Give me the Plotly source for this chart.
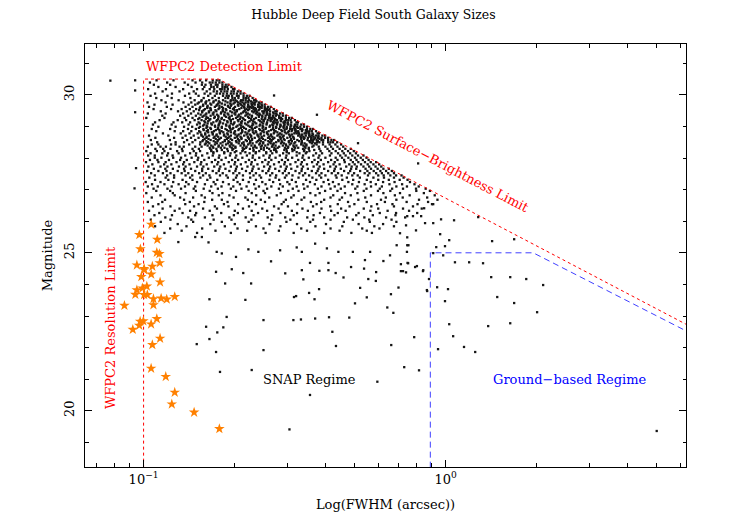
import plotly.graph_objects as go

# Galaxy cloud in thin magnitude rows:
# (magnitude, [log10 FWHM of each galaxy in that row])
ridge_rows = [
    (30.46, [-.957, -.901, -.838, -.813, -.793, -.771, -.758, -.749]),
    (30.39, [-.979, -.922, -.864, -.828, -.806, -.781, -.772, -.761, -.749, -.739]),
    (30.32, [-.966, -.912, -.853, -.807, -.795, -.777, -.761, -.755, -.739, -.728, -.719]),
    (30.25, [-.951, -.894, -.841, -.799, -.776, -.768, -.756, -.739, -.731, -.723, -.709]),
    (30.18, [-.985, -.926, -.869, -.823, -.804, -.781, -.766, -.747, -.741, -.732, -.721, -.704, -.699]),
    (30.11, [-.937, -.881, -.834, -.791, -.768, -.757, -.743, -.732, -.723, -.709, -.701, -.688, -.679]),
    (30.04, [-.962, -.906, -.849, -.827, -.798, -.779, -.758, -.747, -.736, -.724, -.711, -.702, -.691, -.679, -.669]),
    (29.97, [-.977, -.921, -.863, -.818, -.786, -.764, -.737, -.725, -.718, -.707, -.691, -.685, -.669, -.658, -.649]),
    (29.90, [-.958, -.907, -.845, -.801, -.772, -.751, -.729, -.720, -.706, -.698, -.686, -.669, -.661, -.653, -.639]),
    (29.83, [-.941, -.884, -.831, -.808, -.783, -.761, -.737, -.711, -.703, -.696, -.677, -.671, -.662, -.651, -.634, -.629]),
    (29.76, [-.987, -.927, -.868, -.842, -.817, -.795, -.769, -.748, -.722, -.698, -.687, -.673, -.662, -.653, -.639, -.631, -.618, -.609]),
    (29.69, [-.964, -.904, -.851, -.829, -.803, -.776, -.757, -.731, -.709, -.688, -.677, -.666, -.654, -.641, -.632, -.621, -.609, -.599]),
    (29.62, [-.982, -.923, -.861, -.838, -.812, -.789, -.764, -.741, -.719, -.697, -.667, -.655, -.648, -.637, -.621, -.615, -.599, -.588, -.579]),
    (29.55, [-.967, -.909, -.874, -.847, -.826, -.797, -.778, -.752, -.728, -.704, -.683, -.659, -.650, -.636, -.628, -.616, -.599, -.591, -.583, -.569]),
    (29.48, [-.943, -.886, -.857, -.834, -.806, -.784, -.759, -.737, -.713, -.691, -.668, -.641, -.633, -.626, -.607, -.601, -.592, -.581, -.564, -.559]),
    (29.41, [-.986, -.927, -.869, -.843, -.819, -.792, -.771, -.744, -.722, -.699, -.677, -.655, -.628, -.617, -.603, -.592, -.583, -.569, -.561, -.548, -.539]),
    (29.34, [-.938, -.879, -.852, -.827, -.801, -.778, -.753, -.732, -.708, -.686, -.663, -.641, -.618, -.607, -.596, -.584, -.571, -.562, -.551, -.539, -.529]),
    (29.27, [-.991, -.931, -.864, -.838, -.815, -.787, -.766, -.741, -.718, -.694, -.672, -.651, -.628, -.597, -.585, -.578, -.567, -.551, -.545, -.529, -.518, -.509]),
    (29.20, [-.947, -.887, -.859, -.831, -.808, -.782, -.757, -.733, -.711, -.688, -.664, -.643, -.619, -.603, -.589, -.580, -.566, -.558, -.546, -.529, -.521, -.513, -.499]),
    (29.13, [-.962, -.901, -.872, -.846, -.818, -.796, -.769, -.746, -.722, -.699, -.677, -.654, -.632, -.609, -.591, -.571, -.563, -.556, -.537, -.531, -.522, -.511, -.494, -.489]),
    (29.06, [-.969, -.907, -.851, -.823, -.799, -.774, -.751, -.727, -.704, -.682, -.659, -.637, -.614, -.593, -.574, -.558, -.547, -.533, -.522, -.513, -.499, -.491, -.478, -.469]),
    (28.99, [-.951, -.894, -.866, -.839, -.813, -.789, -.763, -.741, -.716, -.693, -.671, -.648, -.626, -.604, -.583, -.561, -.548, -.537, -.526, -.514, -.501, -.492, -.481, -.469, -.459]),
    (28.92, [-.973, -.912, -.853, -.827, -.802, -.777, -.754, -.729, -.706, -.684, -.661, -.639, -.617, -.596, -.572, -.551, -.527, -.515, -.508, -.497, -.481, -.475, -.459, -.448, -.439]),
    (28.85, [-.958, -.897, -.869, -.842, -.816, -.791, -.767, -.742, -.719, -.697, -.673, -.652, -.629, -.607, -.586, -.563, -.541, -.519, -.510, -.496, -.488, -.476, -.459, -.451, -.443, -.429]),
    (28.78, [-.936, -.877, -.848, -.821, -.796, -.771, -.747, -.723, -.701, -.678, -.656, -.634, -.612, -.591, -.569, -.548, -.527, -.501, -.493, -.486, -.467, -.461, -.452, -.441, -.424, -.419]),
    (28.71, [-.982, -.918, -.861, -.834, -.808, -.783, -.759, -.734, -.711, -.689, -.667, -.644, -.622, -.601, -.579, -.557, -.536, -.514, -.488, -.477, -.463, -.452, -.443, -.429, -.421, -.408, -.399]),
    (28.64, [-.961, -.899, -.871, -.843, -.818, -.792, -.768, -.744, -.721, -.698, -.676, -.653, -.632, -.609, -.588, -.567, -.546, -.524, -.503, -.478, -.467, -.456, -.444, -.431, -.422, -.411, -.399, -.389]),
    (28.57, [-.976, -.913, -.856, -.829, -.803, -.778, -.753, -.731, -.707, -.685, -.662, -.641, -.618, -.597, -.576, -.554, -.533, -.512, -.491, -.457, -.445, -.438, -.427, -.411, -.405, -.389, -.378, -.369]),
    (28.50, [-.955, -.894, -.866, -.838, -.812, -.787, -.762, -.738, -.715, -.692, -.669, -.647, -.626, -.604, -.583, -.561, -.541, -.519, -.498, -.476, -.449, -.440, -.426, -.418, -.406, -.389, -.381, -.373, -.359]),
]

# the darkest part of the cloud, between the rows above
core_rows = [
    (29.795, [-.809, -.792, -.768, -.751, -.729, -.712, -.691, -.679, -.655, -.644, -.626]),
    (29.725, [-.821, -.794, -.779, -.753, -.741, -.713, -.702, -.681, -.667, -.643, -.634, -.616]),
    (29.655, [-.803, -.788, -.759, -.749, -.721, -.711, -.686, -.673, -.653, -.641, -.619, -.608]),
    (29.585, [-.814, -.789, -.779, -.749, -.737, -.714, -.701, -.676, -.666, -.642, -.631, -.609, -.597]),
    (29.515, [-.816, -.801, -.777, -.762, -.738, -.726, -.699, -.691, -.664, -.654, -.631, -.619, -.597, -.588]),
    (29.445, [-.806, -.783, -.768, -.743, -.731, -.707, -.696, -.671, -.661, -.636, -.624, -.603, -.592, -.571]),
    (29.375, [-.811, -.795, -.769, -.757, -.733, -.719, -.696, -.684, -.659, -.649, -.623, -.614, -.591, -.581, -.559]),
    (29.305, [-.805, -.792, -.764, -.752, -.727, -.715, -.689, -.679, -.654, -.642, -.618, -.607, -.583, -.572, -.551]),
    (29.235, [-.819, -.794, -.779, -.753, -.742, -.715, -.704, -.681, -.669, -.644, -.634, -.609, -.599, -.575, -.564, -.541]),
    (29.165, [-.799, -.786, -.759, -.748, -.723, -.711, -.686, -.674, -.649, -.637, -.614, -.602, -.579, -.569, -.545, -.533]),
    (29.095, [-.814, -.788, -.776, -.749, -.737, -.711, -.701, -.676, -.664, -.639, -.627, -.604, -.592, -.569, -.559, -.535, -.523]),
    (29.025, [-.803, -.791, -.764, -.752, -.726, -.715, -.689, -.677, -.653, -.641, -.616, -.606, -.581, -.571, -.546, -.535, -.511, -.499]),
    (28.955, [-.817, -.792, -.779, -.753, -.741, -.714, -.703, -.678, -.667, -.642, -.631, -.606, -.595, -.571, -.561, -.536, -.526, -.501, -.489]),
    (28.885, [-.801, -.787, -.761, -.749, -.724, -.712, -.686, -.674, -.649, -.639, -.614, -.603, -.578, -.568, -.544, -.533, -.508, -.498, -.474, -.463]),
    (28.815, [-.812, -.786, -.774, -.748, -.736, -.711, -.699, -.674, -.663, -.638, -.627, -.602, -.592, -.567, -.557, -.532, -.522, -.497, -.488, -.463, -.454]),
    (28.745, [-.809, -.796, -.771, -.758, -.733, -.721, -.696, -.685, -.659, -.648, -.623, -.613, -.588, -.578, -.553, -.543, -.518, -.509, -.484, -.475, -.451, -.439]),
    (28.675, [-.803, -.791, -.765, -.753, -.728, -.716, -.691, -.679, -.655, -.644, -.619, -.609, -.584, -.574, -.549, -.539, -.515, -.505, -.481, -.471, -.448, -.437, -.421]),
    (28.605, [-.798, -.785, -.761, -.749, -.724, -.712, -.688, -.676, -.651, -.641, -.616, -.605, -.581, -.571, -.546, -.536, -.512, -.502, -.478, -.469, -.445, -.435, -.418]),
    (28.535, [-.805, -.792, -.768, -.755, -.731, -.719, -.694, -.683, -.658, -.647, -.622, -.612, -.587, -.577, -.553, -.543, -.519, -.509, -.485, -.476, -.451, -.441, -.423]),
    (28.465, [-.794, -.782, -.757, -.745, -.721, -.709, -.685, -.674, -.649, -.639, -.614, -.604, -.579, -.569, -.545, -.535, -.511, -.501, -.477, -.467, -.443, -.432]),
    (28.395, [-.788, -.776, -.751, -.739, -.715, -.703, -.679, -.667, -.643, -.632, -.608, -.597, -.573, -.563, -.539, -.528, -.504, -.494, -.471, -.461, -.437]),
    (28.325, [-.781, -.769, -.744, -.732, -.708, -.696, -.672, -.661, -.637, -.626, -.602, -.591, -.567, -.556, -.532, -.522, -.498, -.488, -.464, -.453]),
    (28.255, [-.776, -.741, -.706, -.671, -.636, -.602, -.568, -.534, -.501, -.468, -.435]),
    (28.185, [-.769, -.733, -.698, -.663, -.628, -.594, -.560, -.526, -.493, -.460]),
]

mid_rows = [
    (28.43, [-.973, -.951, -.909, -.894, -.849, -.813, -.797, -.764, -.727, -.709, -.668, -.654, -.617, -.588, -.571, -.529, -.516, -.478, -.461, -.427, -.406, -.384, -.365, -.346]),
    (28.36, [-.986, -.944, -.926, -.881, -.867, -.829, -.808, -.771, -.752, -.713, -.696, -.659, -.631, -.612, -.575, -.551, -.521, -.502, -.467, -.441, -.420, -.398, -.379, -.358, -.339]),
    (28.29, [-.961, -.935, -.911, -.873, -.838, -.817, -.779, -.759, -.723, -.703, -.667, -.648, -.611, -.584, -.563, -.527, -.508, -.472, -.453, -.418, -.391, -.373, -.351, -.332, -.314]),
    (28.22, [-.991, -.956, -.931, -.889, -.871, -.834, -.813, -.776, -.757, -.721, -.693, -.673, -.636, -.617, -.579, -.561, -.526, -.507, -.469, -.451, -.414, -.385, -.364, -.342, -.323, -.304]),
    (28.15, [-.977, -.938, -.919, -.884, -.846, -.826, -.789, -.769, -.733, -.712, -.679, -.649, -.629, -.594, -.574, -.538, -.519, -.484, -.463, -.429, -.409, -.378, -.356, -.337, -.316, -.297]),
    (28.08, [-.985, -.963, -.922, -.904, -.862, -.827, -.806, -.771, -.749, -.714, -.693, -.658, -.638, -.603, -.582, -.549, -.527, -.493, -.472, -.438, -.418, -.383, -.349, -.331, -.309, -.290, -.272]),
    (28.01, [-.963, -.941, -.902, -.876, -.841, -.819, -.784, -.751, -.728, -.696, -.673, -.639, -.617, -.584, -.563, -.529, -.508, -.474, -.453, -.421, -.398, -.364, -.343, -.322, -.300, -.281, -.262]),
    (27.94, [-.979, -.954, -.916, -.879, -.857, -.821, -.799, -.763, -.742, -.707, -.687, -.651, -.631, -.597, -.577, -.542, -.522, -.488, -.468, -.434, -.413, -.379, -.358, -.336, -.314, -.295, -.274, -.255]),
    (27.87, [-.992, -.951, -.927, -.891, -.866, -.832, -.809, -.774, -.753, -.718, -.697, -.662, -.642, -.607, -.586, -.552, -.532, -.497, -.476, -.442, -.422, -.389, -.367, -.334, -.307, -.289, -.267, -.248, -.230]),
    (27.80, [-.971, -.932, -.908, -.869, -.848, -.811, -.791, -.756, -.734, -.699, -.678, -.644, -.623, -.589, -.568, -.534, -.514, -.479, -.459, -.426, -.404, -.371, -.351, -.319, -.301, -.280, -.258, -.239, -.220]),
    (27.73, [-.984, -.944, -.921, -.883, -.861, -.823, -.802, -.766, -.746, -.711, -.691, -.656, -.636, -.601, -.581, -.546, -.526, -.491, -.472, -.437, -.417, -.382, -.363, -.329, -.311, -.294, -.272, -.253, -.232, -.213]),
    (27.66, [-.966, -.928, -.903, -.866, -.843, -.806, -.786, -.749, -.729, -.694, -.674, -.639, -.619, -.584, -.564, -.529, -.511, -.476, -.456, -.421, -.402, -.367, -.347, -.313, -.296, -.265, -.247, -.225, -.206, -.188]),
    (27.59, [-.988, -.951, -.924, -.887, -.864, -.829, -.806, -.771, -.751, -.716, -.696, -.661, -.641, -.606, -.587, -.551, -.532, -.497, -.477, -.443, -.424, -.389, -.369, -.336, -.316, -.283, -.259, -.238, -.216, -.197, -.178]),
    (27.52, [-.975, -.936, -.911, -.874, -.852, -.816, -.794, -.759, -.738, -.703, -.683, -.648, -.628, -.594, -.574, -.539, -.519, -.484, -.465, -.429, -.411, -.377, -.356, -.322, -.303, -.268, -.252, -.230, -.211, -.190, -.171]),
    (27.45, [-.963, -.922, -.899, -.861, -.839, -.803, -.782, -.747, -.726, -.691, -.671, -.636, -.616, -.581, -.561, -.527, -.507, -.472, -.452, -.418, -.398, -.364, -.344, -.309, -.291, -.257, -.223, -.205, -.183, -.164, -.146]),
]

lower_rows = [
    (27.38, [-.981, -.927, -.899, -.846, -.812, -.779, -.721, -.694, -.647, -.611, -.563, -.532, -.487, -.441, -.412, -.361, -.327, -.284, -.239, -.204, -.171, -.139]),
    (27.31, [-.962, -.918, -.871, -.838, -.789, -.756, -.702, -.671, -.628, -.583, -.551, -.509, -.462, -.428, -.389, -.342, -.306, -.261, -.223, -.188, -.152, -.126]),
    (27.24, [-.993, -.944, -.902, -.859, -.823, -.768, -.737, -.689, -.652, -.607, -.571, -.524, -.496, -.449, -.404, -.373, -.322, -.287, -.248, -.207, -.169, -.118]),
    (27.17, [-.972, -.931, -.884, -.851, -.797, -.762, -.718, -.681, -.634, -.596, -.548, -.517, -.471, -.433, -.386, -.354, -.309, -.268, -.231, -.186, -.144, -.103]),
    (27.10, [-.986, -.953, -.907, -.863, -.829, -.776, -.742, -.703, -.659, -.618, -.577, -.539, -.493, -.457, -.411, -.367, -.334, -.292, -.247, -.211, -.163, -.128, -.089]),
    (27.03, [-.967, -.921, -.876, -.834, -.801, -.754, -.711, -.676, -.629, -.591, -.552, -.506, -.468, -.423, -.381, -.347, -.299, -.262, -.218, -.177, -.141, -.098, -.066]),
    (26.96, [-.958, -.912, -.827, -.781, -.694, -.652, -.603, -.521, -.487, -.399, -.358, -.271, -.224, -.183, -.097, -.052]),
    (26.89, [-.991, -.903, -.861, -.772, -.739, -.642, -.598, -.546, -.448, -.417, -.333, -.292, -.206, -.151, -.072]),
    (26.82, [-.944, -.897, -.808, -.751, -.716, -.627, -.559, -.503, -.431, -.372, -.314, -.247, -.168, -.119, -.036]),
    (26.75, [-.973, -.879, -.836, -.797, -.702, -.663, -.584, -.511, -.468, -.381, -.343, -.266, -.198, -.142, -.061]),
    (26.68, [-.929, -.866, -.773, -.741, -.655, -.612, -.529, -.477, -.402, -.351, -.289, -.214, -.163, -.088, -.027]),
    (26.61, [-.986, -.938, -.847, -.799, -.722, -.641, -.598, -.536, -.446, -.412, -.323, -.261, -.201, -.129, -.058]),
    (26.54, [-.951, -.862, -.818, -.734, -.687, -.628, -.543, -.491, -.427, -.357, -.302, -.227, -.176, -.093, -.041]),
    (26.47, [-.969, -.911, -.833, -.764, -.719, -.651, -.568, -.522, -.439, -.382, -.318, -.246, -.171, -.108]),
    (26.40, [-.937, -.881, -.803, -.757, -.671, -.607, -.553, -.474, -.411, -.346, -.271, -.223, -.141, -.079]),
    (26.33, [-.982, -.897, -.846, -.781, -.698, -.642, -.591, -.509, -.456, -.379, -.331, -.249, -.192, -.121]),
    (26.26, [-.948, -.871, -.826, -.743, -.688, -.621, -.547, -.492, -.416, -.357, -.288, -.218, -.164, -.094]),
    (26.19, [-.964, -.906, -.829, -.772, -.701, -.636, -.574, -.503, -.437, -.368, -.296, -.241, -.166]),
    (26.12, [-.928, -.852, -.797, -.716, -.662, -.589, -.531, -.458, -.402, -.326, -.269, -.197, -.134]),
    (26.05, [-.976, -.911, -.842, -.768, -.709, -.643, -.577, -.514, -.439, -.381, -.307, -.253, -.179]),
    (25.98, [-.943, -.836, -.741, -.652, -.527, -.448, -.337, -.251, -.163]),
    (25.91, [-.887, -.779, -.698, -.583, -.492, -.396, -.288, -.207]),
    (25.84, [-.962, -.858, -.731, -.628, -.547, -.431, -.342, -.236, -.171]),
    (25.77, [-.912, -.806, -.689, -.603, -.478, -.381, -.276, -.219]),
    (25.70, [-.874, -.762, -.657, -.552, -.459, -.351, -.261]),
    (25.63, [-.931, -.823, -.711, -.596, -.503, -.402, -.312, -.244]),
]

# scattered galaxies: (log10 FWHM, magnitude)
sparse_dots = [
    (-0.041, 24.99), (-0.008, 24.92), (0.031, 24.70), (0.078, 24.70), (0.124, 24.67), (0.151, 24.23),
    (0.214, 24.23), (0.267, 24.17), (0.323, 23.98), (0.154, 25.37), (0.227, 25.43), (0.028, 26.03),
    (0.171, 23.60), (0.227, 23.41), (0.303, 23.12), (0.141, 22.68), (0.214, 22.77), (0.012, 22.74),
    (0.025, 22.36), (0.061, 22.02), (0.098, 21.86), (-0.025, 21.95), (-0.104, 22.33), (-0.137, 21.38),
    (-0.088, 21.28), (-0.002, 23.47), (0.008, 23.85), (-0.028, 23.91), (-0.061, 23.79), (-0.055, 24.17),
    (-0.018, 25.59), (0.012, 25.40), (-0.002, 25.21), (-0.031, 25.18), (-0.127, 25.24), (-0.127, 25.49),
    (-0.151, 25.62), (-0.098, 25.71), (-0.131, 25.87), (-0.041, 25.94), (-0.068, 25.94), (-0.081, 26.16),
    (-0.108, 26.16), (-0.127, 26.16), (-0.071, 26.41), (-0.045, 26.54), (0.108, 26.13), (-0.124, 24.67),
    (-0.101, 24.55), (-0.075, 24.42), (-0.141, 24.42), (-0.015, 26.06),
    (-0.885, 25.34), (-0.829, 25.50), (-0.807, 25.50), (-0.785, 25.33), (-0.758, 25.03), (-0.741, 24.98),
    (-0.694, 24.87), (-0.760, 24.40), (-0.708, 24.48), (-0.670, 24.36), (-0.730, 24.03), (-0.644, 24.03),
    (-0.782, 23.53), (-0.663, 23.51), (-0.725, 22.97), (-0.793, 22.66), (-0.756, 22.48), (-0.736, 22.64),
    (-0.782, 22.27), (-0.824, 22.11), (-0.760, 21.86), (-0.747, 21.23), (-0.642, 21.29), (-0.603, 21.92),
    (-0.603, 22.87), (-0.578, 24.73), (-0.531, 24.35), (-0.471, 24.16), (-0.452, 23.73), (-0.419, 23.85),
    (-0.434, 23.53), (-0.502, 23.60), (-0.495, 23.63), (-0.504, 22.87), (-0.479, 22.89), (-0.432, 22.92),
    (-0.386, 22.96), (-0.319, 22.95), (-0.375, 22.50), (-0.363, 22.05), (-0.449, 20.50), (-0.517, 19.41),
    (-0.300, 23.40), (-0.283, 23.89), (-0.261, 23.59), (-0.193, 23.27), (-0.173, 23.10), (-0.181, 23.69),
    (-0.156, 23.90), (-0.180, 22.08), (-0.226, 20.92), (-0.231, 24.11), (-0.256, 24.17), (-0.338, 24.22),
    (-0.388, 24.45), (-0.418, 24.43), (-0.476, 24.45), (-0.364, 24.36), (-0.313, 24.55), (-0.270, 24.50),
    (-0.230, 24.39), (-0.148, 24.42), (-0.131, 24.38), (-0.062, 23.82), (-0.095, 24.58), (-0.074, 24.45),
    (-0.126, 24.68), (-0.148, 24.64), (-0.267, 24.77), (-0.206, 24.74), (-0.388, 24.68), (-0.449, 24.68),
    (-0.653, 25.11), (-0.620, 25.03), (-0.548, 25.08), (-0.493, 25.17), (-0.476, 25.03), (-0.432, 25.29),
    (-0.393, 25.14), (-0.355, 25.03), (-0.307, 25.03), (-0.250, 25.03), (-0.162, 25.24), (-0.123, 25.24),
    (-0.128, 25.03), (-0.184, 24.92), (0.699, 19.36),
    # stray points above the limits or left of the resolution limit
    (-0.568, 29.98), (-0.426, 29.37), (-0.290, 28.47), (-0.091, 27.83),
    (-1.028, 30.46), (-1.028, 30.14), (-1.028, 29.45), (-1.025, 27.68), (-1.030, 27.04), (-1.110, 30.45),
]

# bright compact objects (orange stars)
star_fwhm = [0.106, 0.0968, 0.111, 0.0976, 0.1106, 0.1128, 0.1131, 0.0950, 0.1069, 0.1004,
             0.1004, 0.106, 0.0983, 0.1134, 0.1025, 0.0991, 0.0950, 0.0939, 0.1004, 0.1029,
             0.1078, 0.1143, 0.1193, 0.1268, 0.1078, 0.0864, 0.1106, 0.0974, 0.0998, 0.0968,
             0.1059, 0.0921, 0.1134, 0.1069, 0.1059, 0.1184, 0.1268, 0.1240, 0.1470, 0.1782]
star_mag = [25.90, 25.57, 25.42, 25.12, 25.01, 24.97, 24.68, 24.61, 24.57, 24.50,
            24.46, 24.32, 24.24, 24.07, 23.94, 23.88, 23.82, 23.68, 23.67, 23.67,
            23.54, 23.56, 23.53, 23.61, 23.35, 23.33, 22.91, 22.83, 22.84, 22.70,
            22.74, 22.57, 22.29, 22.09, 21.34, 21.08, 20.58, 20.21, 19.95, 19.43]

# WFPC2 resolution / detection / surface-brightness limit
wfpc2_fwhm = [0.1, 0.1, 0.177, 6.25]
wfpc2_mag = [18.2, 30.5, 30.5, 22.74]
# ground-based regime boundary
ground_fwhm = [0.89, 0.89, 1.95, 6.25]
ground_mag = [18.2, 25.0, 25.0, 22.53]

x_major = [0.1, 1]
x_major_text = ["10<sup>−1</sup>", "10<sup>0</sup>"]
x_minor = [0.07, 0.08, 0.09, 0.2, 0.3, 0.4, 0.5, 0.6, 0.7, 0.8, 0.9, 2, 3, 4, 5, 6]
y_major = [20, 25, 30]

FONT = "DejaVu Serif"

dot_x, dot_y = [], []
for mag, widths in ridge_rows + core_rows + mid_rows + lower_rows:
    for lw in widths:
        dot_x.append(10 ** lw)
        dot_y.append(mag)
for lw, mag in sparse_dots:
    dot_x.append(10 ** lw)
    dot_y.append(mag)

fig = go.Figure()
fig.add_trace(go.Scatter(
    x=dot_x, y=dot_y, mode="markers",
    marker=dict(symbol="square", size=2.3, color="#151515", line=dict(width=0)),
    hoverinfo="skip",
))
fig.add_trace(go.Scatter(
    x=wfpc2_fwhm, y=wfpc2_mag, mode="lines",
    line=dict(color="#ff0000", width=1, dash="dot"),
    hoverinfo="skip",
))
fig.add_trace(go.Scatter(
    x=ground_fwhm, y=ground_mag, mode="lines",
    line=dict(color="#4040ff", width=1, dash="6px,4px"),
    hoverinfo="skip",
))
fig.add_trace(go.Scatter(
    x=star_fwhm, y=star_mag, mode="markers",
    marker=dict(symbol="star", size=8, color="#ff8000", line=dict(width=0)),
    hoverinfo="skip",
))

axis_common = dict(
    showline=True, linecolor="black", linewidth=1, mirror="allticks",
    ticks="inside", ticklen=7, tickcolor="black", tickwidth=1,
    showgrid=False, zeroline=False, automargin=False,
    tickfont=dict(family=FONT, size=13, color="black"),
)

fig.update_xaxes(
    type="log", range=[-1.194, 0.796],
    tickmode="array", tickvals=x_major, ticktext=x_major_text,
    minor=dict(ticks="inside", ticklen=4, tickcolor="black", tickmode="array", tickvals=x_minor),
    title=dict(text="Log(FWHM (arcsec))", font=dict(family=FONT, size=13, color="black"), standoff=14),
    **axis_common,
)
fig.update_yaxes(
    range=[18.22, 31.61],
    tickmode="array", tickvals=y_major, tickangle=-90, ticklabelstandoff=5,
    minor=dict(ticks="inside", ticklen=3.5, tickcolor="black", dtick=1),
    title=dict(text="Magnitude", font=dict(family=FONT, size=13, color="black"), standoff=6),
    **axis_common,
)

label_font = dict(family=FONT, size=13)
annotations = [
    dict(x=-1.0, y=30.9, text="WFPC2 Detection Limit", xanchor="left", color="#ff0000"),
    dict(x=-0.058, y=28.05, text="WFPC2 Surface−Brightness Limit", angle=27.6, color="#ff0000"),
    dict(x=-1.111, y=22.62, text="WFPC2 Resolution Limit", angle=-90, color="#ff0000"),
    dict(x=-0.45, y=21.0, text="SNAP Regime", color="black"),
    dict(x=0.411, y=20.99, text="Ground−based Regime", color="#0000ff"),
]
for a in annotations:
    fig.add_annotation(
        x=a["x"], y=a["y"], xref="x", yref="y", text=a["text"], showarrow=False,
        xanchor=a.get("xanchor", "center"), yanchor="middle", textangle=a.get("angle", 0),
        font=dict(color=a["color"], **label_font),
    )

# the page body adds an 8px margin, so the figure is 8px smaller on each side
fig.update_layout(
    width=739, height=510,
    margin=dict(l=77, r=61, t=36, b=51),
    paper_bgcolor="white", plot_bgcolor="white",
    showlegend=False,
    title=dict(text="Hubble Deep Field South Galaxy Sizes", x=0.4946, xref="container", xanchor="center",
               y=1 - 7 / 510, yref="container", yanchor="middle",
               font=dict(family=FONT, size=12.5, color="black")),
)

fig.write_html("out.html")
